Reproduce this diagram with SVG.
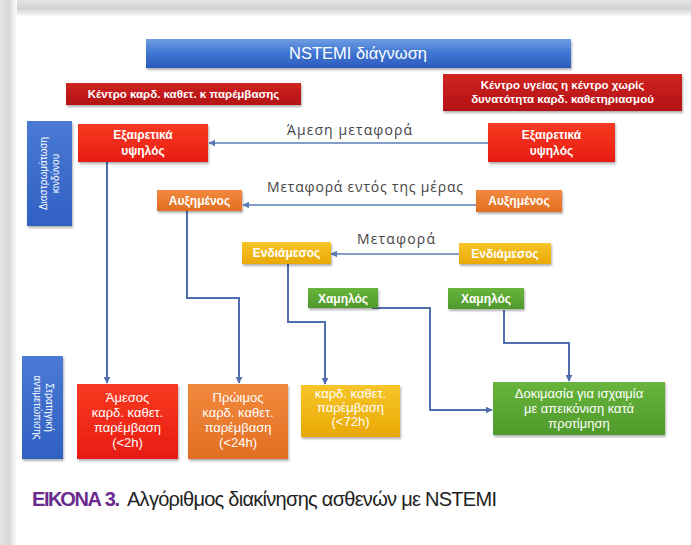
<svg xmlns="http://www.w3.org/2000/svg" width="691" height="545" viewBox="0 0 691 545">
<defs>
<linearGradient id="gTop" x1="0" y1="0" x2="0" y2="1"><stop offset="0" stop-color="#e4e4e4"/><stop offset="0.5" stop-color="#d2d2d2"/><stop offset="1" stop-color="#ffffff"/></linearGradient>
<linearGradient id="gLeft" x1="0" y1="0" x2="1" y2="0"><stop offset="0" stop-color="#e6e6e6"/><stop offset="0.5" stop-color="#d6d6d6"/><stop offset="1" stop-color="#ffffff"/></linearGradient>
<linearGradient id="gTitle" x1="0" y1="0" x2="0" y2="1"><stop offset="0" stop-color="#6e9de2"/><stop offset="0.5" stop-color="#3f74d2"/><stop offset="1" stop-color="#2c5cbd"/></linearGradient>
<linearGradient id="gBlue" x1="0" y1="0" x2="0" y2="1"><stop offset="0" stop-color="#4a7ad6"/><stop offset="1" stop-color="#2f60c2"/></linearGradient>
<linearGradient id="gDark" x1="0" y1="0" x2="0" y2="1"><stop offset="0" stop-color="#d02420"/><stop offset="1" stop-color="#b31116"/></linearGradient>
<linearGradient id="gRed" x1="0" y1="0" x2="0" y2="1"><stop offset="0" stop-color="#f83a22"/><stop offset="1" stop-color="#e81c12"/></linearGradient>
<linearGradient id="gOrange" x1="0" y1="0" x2="0" y2="1"><stop offset="0" stop-color="#f28a3e"/><stop offset="1" stop-color="#e26e22"/></linearGradient>
<linearGradient id="gYellow" x1="0" y1="0" x2="0" y2="1"><stop offset="0" stop-color="#f7c52a"/><stop offset="1" stop-color="#e9a904"/></linearGradient>
<linearGradient id="gGreen" x1="0" y1="0" x2="0" y2="1"><stop offset="0" stop-color="#68b43c"/><stop offset="1" stop-color="#4f9a2b"/></linearGradient>
<filter id="sh" x="-10%" y="-20%" width="125%" height="150%"><feDropShadow dx="1" dy="2" stdDeviation="1.3" flood-color="#000" flood-opacity="0.3"/></filter>
<marker id="ah" viewBox="0 0 10 10" refX="9" refY="5" markerWidth="7" markerHeight="7" markerUnits="userSpaceOnUse" orient="auto"><path d="M0,0 L10,5 L0,10 z" fill="#4f6fae"/></marker>
<marker id="ahs" viewBox="0 0 10 10" refX="9" refY="5" markerWidth="7" markerHeight="7" markerUnits="userSpaceOnUse" orient="auto"><path d="M0,0 L10,5 L0,10 z" fill="#5a7cb6"/></marker>
</defs>
<style>
.bg{fill:#ffffff}
.lbl{font-family:"Liberation Sans",Arial,sans-serif;fill:#ffffff;text-anchor:middle}
.b{font-weight:bold;font-size:12px}
.h{font-weight:bold;font-size:11.5px}
.t{font-size:13px}
.side{font-size:10px}
.arrlbl{font-family:"Open Sans","DejaVu Sans",sans-serif;font-size:14px;fill:#444444;text-anchor:middle}
.thin{fill:none;stroke:#5a7cb6;stroke-width:1.3}
.thick{fill:none;stroke:#4f6fae;stroke-width:2}
.cap{font-family:"Liberation Sans",Arial,sans-serif;font-size:20px}
</style>
<rect class="bg" x="0" y="0" width="691" height="545"/>
<rect x="0" y="0" width="691" height="17" fill="url(#gTop)"/>
<rect x="0" y="0" width="17" height="545" fill="url(#gLeft)"/>

<g id="connectors">
<path class="thin" d="M488,143 L209,143" marker-end="url(#ahs)"/>
<path class="thin" d="M476,205 L243,205" marker-end="url(#ahs)"/>
<path class="thin" d="M460,254 L331,254" marker-end="url(#ahs)"/>
<path class="thick" d="M107,162 L107,383" marker-end="url(#ah)"/>
<path class="thick" d="M187,210 L187,298 L239,298 L239,383" marker-end="url(#ah)"/>
<path class="thick" d="M288,264 L288,322 L325,322 L325,384" marker-end="url(#ah)"/>
<path class="thick" d="M372,308 L430,308 L430,410 L492,410" marker-end="url(#ah)"/>
<path class="thick" d="M504,310 L504,343 L569,343 L569,381" marker-end="url(#ah)"/>
</g>

<g id="title">
<rect x="146" y="39" width="425" height="29" fill="url(#gTitle)" filter="url(#sh)"/>
<text class="lbl" x="358" y="59" font-size="16.5">NSTEMI διάγνωση</text>
</g>
<g id="hdr-left">
<rect x="66" y="83" width="235" height="22" fill="url(#gDark)" filter="url(#sh)"/>
<text class="lbl h" x="183.5" y="98">Κέντρο καρδ. καθετ. κ παρέμβασης</text>
</g>
<g id="hdr-right">
<rect x="443" y="74" width="239" height="37" fill="url(#gDark)" filter="url(#sh)"/>
<text class="lbl h" x="562.5" y="89">Κέντρο υγείας η κέντρο χωρίς</text>
<text class="lbl h" x="562.5" y="103">δυνατότητα καρδ. καθετηριασμού</text>
</g>

<g id="side-risk">
<rect x="27" y="121" width="45" height="105" fill="url(#gBlue)" filter="url(#sh)"/>
<text class="lbl side" transform="translate(49.5,173.5) rotate(-90)"><tspan x="0" y="-3">Διαστρωμάτωση</tspan><tspan x="0" y="9">κινδύνου</tspan></text>
</g>
<g id="side-strategy">
<rect x="22" y="356" width="41" height="103" fill="url(#gBlue)" filter="url(#sh)"/>
<text class="lbl side" transform="translate(42.5,407.5) rotate(90)"><tspan x="0" y="-3">Στρατηγική</tspan><tspan x="0" y="9">αντιμετώπισης</tspan></text>
</g>

<g id="vh-left">
<rect x="78" y="124" width="130" height="38" fill="url(#gRed)" filter="url(#sh)"/>
<text class="lbl b" x="143" y="139">Εξαιρετικά</text>
<text class="lbl b" x="143" y="155">υψηλός</text>
</g>
<g id="vh-right">
<rect x="488" y="123" width="127" height="39" fill="url(#gRed)" filter="url(#sh)"/>
<text class="lbl b" x="551.5" y="139">Εξαιρετικά</text>
<text class="lbl b" x="551.5" y="155">υψηλός</text>
</g>
<text class="arrlbl" x="349.5" y="135" textLength="125">Άμεση μεταφορά</text>

<g id="hi-left">
<rect x="157" y="190" width="85" height="21" fill="url(#gOrange)" filter="url(#sh)"/>
<text class="lbl b" x="199.5" y="205">Αυξημένος</text>
</g>
<g id="hi-right">
<rect x="476" y="190" width="86" height="22" fill="url(#gOrange)" filter="url(#sh)"/>
<text class="lbl b" x="519" y="205">Αυξημένος</text>
</g>
<text class="arrlbl" x="365" y="192" textLength="196">Μεταφορά εντός της μέρας</text>

<g id="mid-left">
<rect x="242" y="242" width="89" height="22" fill="url(#gYellow)" filter="url(#sh)"/>
<text class="lbl b" x="286.5" y="257">Ενδιάμεσος</text>
</g>
<g id="mid-right">
<rect x="459" y="243" width="92" height="21" fill="url(#gYellow)" filter="url(#sh)"/>
<text class="lbl b" x="505" y="258">Ενδιάμεσος</text>
</g>
<text class="arrlbl" x="396" y="244" textLength="78">Μεταφορά</text>

<g id="low-left">
<rect x="308" y="288" width="70" height="20" fill="url(#gGreen)" filter="url(#sh)"/>
<text class="lbl b" x="343" y="302.5">Χαμηλός</text>
</g>
<g id="low-right">
<rect x="448" y="288" width="76" height="21" fill="url(#gGreen)" filter="url(#sh)"/>
<text class="lbl b" x="486" y="303">Χαμηλός</text>
</g>

<g id="out-immediate">
<rect x="77" y="384" width="101" height="75" fill="url(#gRed)" filter="url(#sh)"/>
<text class="lbl t" x="127.5" y="401.5">Άμεσος</text>
<text class="lbl t" x="127.5" y="416.5">καρδ. καθετ.</text>
<text class="lbl t" x="127.5" y="431.5">παρέμβαση</text>
<text class="lbl t" x="127.5" y="446.5">(&lt;2h)</text>
</g>
<g id="out-early">
<rect x="188" y="384" width="100" height="75" fill="url(#gOrange)" filter="url(#sh)"/>
<text class="lbl t" x="238" y="401.5">Πρώιμος</text>
<text class="lbl t" x="238" y="416.5">καρδ. καθετ.</text>
<text class="lbl t" x="238" y="431.5">παρέμβαση</text>
<text class="lbl t" x="238" y="446.5">(&lt;24h)</text>
</g>
<g id="out-72">
<rect x="301" y="385" width="99" height="52" fill="url(#gYellow)" filter="url(#sh)"/>
<text class="lbl t" x="350.5" y="397.5">καρδ. καθετ.</text>
<text class="lbl t" x="350.5" y="411.5">παρέμβαση</text>
<text class="lbl t" x="350.5" y="425.5">(&lt;72h)</text>
</g>
<g id="out-test">
<rect x="493" y="382" width="172" height="53" fill="url(#gGreen)" filter="url(#sh)"/>
<text class="lbl t" x="579" y="397.5">Δοκιμασία για ισχαιμία</text>
<text class="lbl t" x="579" y="413">με απεικόνιση κατά</text>
<text class="lbl t" x="579" y="428">προτίμηση</text>
</g>

<text class="cap" x="32" y="506"><tspan fill="#6b2a8e" font-weight="bold" textLength="88">ΕΙΚΟΝΑ 3.</tspan><tspan fill="#222222" x="127" textLength="370">Αλγόριθμος διακίνησης ασθενών με NSTEMI</tspan></text>
</svg>
